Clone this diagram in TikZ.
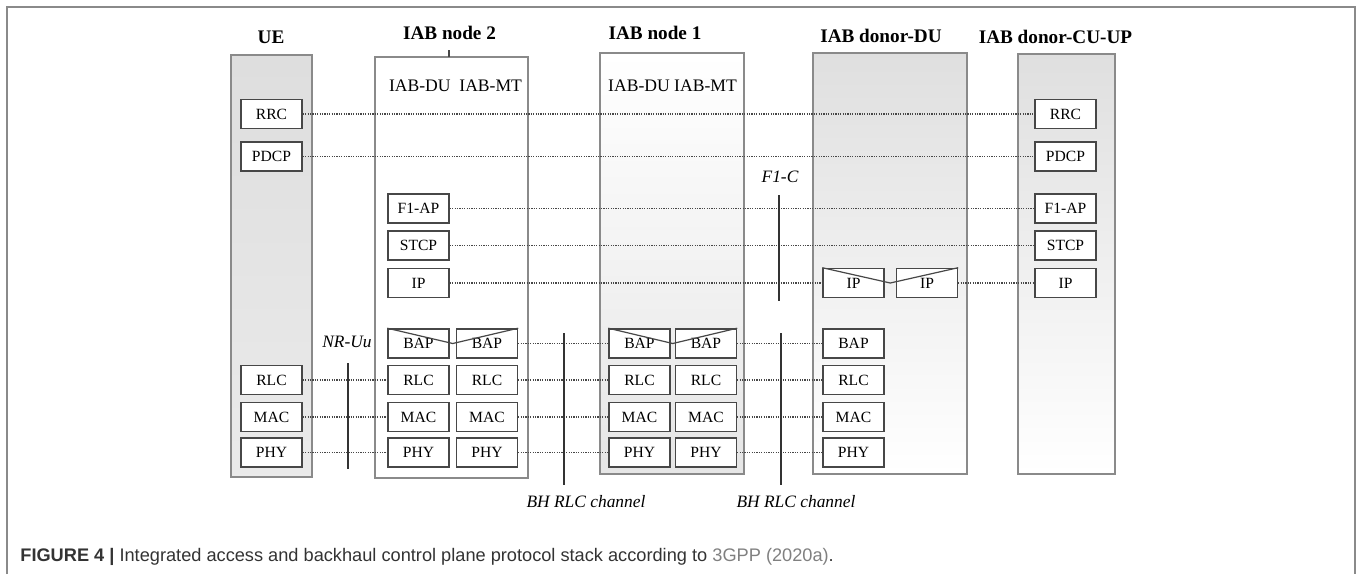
\documentclass[tikz,border=0pt]{standalone}
\usepackage{fontspec}
\setmainfont{Liberation Serif}
\newfontfamily\capfont{Liberation Sans}
\usepackage{tikz}
\usetikzlibrary{calc}
\definecolor{framegray}{HTML}{8A8A8A}
\definecolor{boxgray}{HTML}{474747}
\definecolor{capgray}{HTML}{333333}
\definecolor{refgray}{HTML}{808080}

\begin{document}
\begin{tikzpicture}[x=0.5pt, y=-0.5pt,
    layer/.style={draw=boxgray, line width=0.7pt, fill=white, minimum width=30.5pt,
      minimum height=14.6pt, inner sep=0pt, font=\fontsize{7.8}{9}\selectfont},
    column/.style={draw=framegray, line width=0.6pt},
    title/.style={font=\fontsize{9.6}{11}\selectfont\bfseries},
    sub/.style={font=\fontsize{8.8}{10}\selectfont},
    iface/.style={font=\fontsize{8.7}{10}\selectfont\itshape},
    link/.style={draw=boxgray, line width=0.9pt, dash pattern=on 0.6pt off 0.6pt},
    cut/.style={draw=black!80, line width=0.8pt}]
  \useasboundingbox (0,0) rectangle (1357,574);
  \draw[framegray, line width=1pt] (7,574) -- (7,7) -- (1355,7) -- (1355,574);

  \shade[column, top color=gray!26, bottom color=gray!16] (231,55) rectangle (312,477);
  \draw[column, fill=white] (375,57) rectangle (528,478);
  \shade[column, top color=white, bottom color=gray!20] (600,53) rectangle (744,474);
  \shade[column, top color=gray!25, bottom color=white] (813,53) rectangle (967,474);
  \shade[column, top color=gray!25, bottom color=white] (1018,54) rectangle (1115,474);
  \draw[boxgray, line width=0.8pt] (449,50) -- (449,57);

  \node[title] (ue) at (271,37.5) {UE};
  \node[title] (nodeb) at (449.5,32.5) {IAB node 2};
  \node[title] (nodea) at (655,32.5) {IAB node 1};
  \node[title] (donordu) at (881,35.5) {IAB donor-DU};
  \node[title] (donorcu) at (1055.5,36.5) {IAB donor-CU-UP};
  \node[sub] (nbsub) at (455.5,86) {IAB-DU\ \ IAB-MT};
  \node[sub] (nasub) at (672.5,86) {IAB-DU IAB-MT};

  \foreach \lay/\y in {RRC/114, PDCP/156.5} {
    \node[layer] (ue\lay) at (271.5,\y) {\lay};
    \node[layer] (cu\lay) at (1065.5,\y) {\lay};
    \draw[link] (ue\lay) -- (cu\lay);
  }
  \foreach \lay/\txt/\y in {F1/F1-AP/208.5, STCP/STCP/245.5, IP/IP/283} {
    \node[layer] (nbdu\lay) at (418.5,\y) {\txt};
    \node[layer] (cu\lay) at (1065.5,\y) {\txt};
  }
  \node[layer] (ddIP) at (853.5,283) {IP};
  \node[layer] (ddIPb) at (927,283) {IP};
  \draw[link] (nbduF1) -- (cuF1);
  \draw[link] (nbduSTCP) -- (cuSTCP);
  \draw[link] (nbduIP) -- (ddIP);
  \draw[link] (ddIPb) -- (cuIP);

  \foreach \x/\name in {418.5/nbdu, 487/nbmt, 639.5/nadu, 706/namt, 853.5/dd}
    \node[layer] (\name BAP) at (\x,343.5) {BAP};
  \draw[link] (nbmtBAP) -- (naduBAP);
  \draw[link] (namtBAP) -- (ddBAP);

  \foreach \lay/\y in {RLC/380, MAC/417, PHY/452.5} {
    \node[layer] (ue\lay) at (271.5,\y) {\lay};
    \node[layer] (nbdu\lay) at (418.5,\y) {\lay};
    \node[layer] (nbmt\lay) at (487,\y) {\lay};
    \node[layer] (nadu\lay) at (639.5,\y) {\lay};
    \node[layer] (namt\lay) at (706,\y) {\lay};
    \node[layer] (dd\lay) at (853.5,\y) {\lay};
    \draw[link] (ue\lay) -- (nbdu\lay);
    \draw[link] (nbmt\lay) -- (nadu\lay);
    \draw[link] (namt\lay) -- (dd\lay);
  }

  \draw[boxgray, line width=0.6pt] (nbduBAP.north west) -- ($(nbduBAP.east)!.5!(nbmtBAP.west)$) -- (nbmtBAP.north east);
  \draw[boxgray, line width=0.6pt] (naduBAP.north west) -- ($(naduBAP.east)!.5!(namtBAP.west)$) -- (namtBAP.north east);
  \draw[boxgray, line width=0.6pt] (ddIP.north west) -- ($(ddIP.east)!.5!(ddIPb.west)$) -- (ddIPb.north east);

  \node[iface] (nruu) at (347,342) {NR-Uu};
  \node[iface] (fonec) at (780,177) {F1-C};
  \node[iface] (bha) at (586,502) {BH RLC channel};
  \node[iface] (bhb) at (796,502) {BH RLC channel};
  \draw[cut] (348,363) -- (348,469);
  \draw[cut] (779,195) -- (779,301);
  \draw[cut] (564,333) -- (564,485);
  \draw[cut] (781,333) -- (781,485);

  \node[anchor=west, inner sep=0pt, text=capgray, font=\capfont\fontsize{9.1}{11}\selectfont] (caption) at (20,557)
    {\textbf{FIGURE 4 |} Integrated access and backhaul control plane protocol stack according to \textcolor{refgray}{3GPP (2020a)}.};
\end{tikzpicture}
\end{document}
